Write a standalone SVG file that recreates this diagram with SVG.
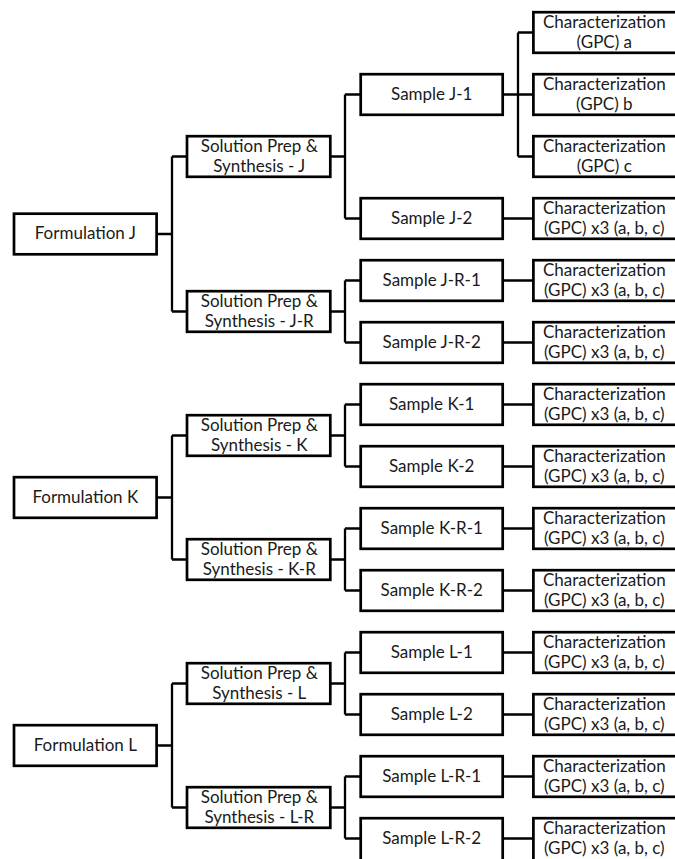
<svg xmlns="http://www.w3.org/2000/svg" width="675" height="859" viewBox="0 0 675 859">
<style>
.b{fill:#fff;stroke:#000;stroke-width:2.7}
.t{font-family:Lato,"Open Sans",sans-serif;font-size:17px;fill:#1a1a1a;text-anchor:middle}
.c{fill:none;stroke:#000;stroke-width:2.3}
</style>
<rect width="675" height="859" fill="#fff"/>
<g id="connectors">
<path class="c" d="M157 234H172M172 156.5V311.5M172 156.5H187M172 311.5H187"/>
<path class="c" d="M157 497.5H172M172 435.5V559.5M172 435.5H187M172 559.5H187"/>
<path class="c" d="M157 745.5H172M172 683.5V807.5M172 683.5H187M172 807.5H187"/>
<path class="c" d="M330 156.5H345M345 94.5V218.5M345 94.5H361M345 218.5H361"/>
<path class="c" d="M330 311.5H345M345 280.5V342.5M345 280.5H361M345 342.5H361"/>
<path class="c" d="M330 435.5H345M345 404.5V466.5M345 404.5H361M345 466.5H361"/>
<path class="c" d="M330 559.5H345M345 528.5V590.5M345 528.5H361M345 590.5H361"/>
<path class="c" d="M330 683.5H345M345 652.5V714.5M345 652.5H361M345 714.5H361"/>
<path class="c" d="M330 807.5H345M345 776.5V838.5M345 776.5H361M345 838.5H361"/>
<path class="c" d="M503 94.5H533M518 32.5V156.5M518 32.5H533M518 156.5H533"/>
<path class="c" d="M503 218.5H533M503 280.5H533M503 342.5H533M503 404.5H533M503 466.5H533M503 528.5H533M503 590.5H533M503 652.5H533M503 714.5H533M503 776.5H533M503 838.5H533"/>
</g>
<g id="formulation-j"><rect class="b" x="14" y="213.7" width="142.6" height="40.6"/><text class="t" x="85.3" y="239">Formulation J</text></g>
<g id="formulation-k"><rect class="b" x="14" y="477.2" width="142.6" height="40.6"/><text class="t" x="85.3" y="502.5">Formulation K</text></g>
<g id="formulation-l"><rect class="b" x="14" y="725.2" width="142.6" height="40.6"/><text class="t" x="85.3" y="750.5">Formulation L</text></g>
<g id="sp-j"><rect class="b" x="187" y="136.2" width="143.3" height="40.6"/><text class="t" x="259.3" y="152"><tspan x="259.3">Solution Prep &amp;</tspan><tspan x="259.3" dy="19.5">Synthesis - J</tspan></text></g>
<g id="sp-jr"><rect class="b" x="187" y="291.2" width="143.3" height="40.6"/><text class="t" x="259.3" y="307"><tspan x="259.3">Solution Prep &amp;</tspan><tspan x="259.3" dy="19.5">Synthesis - J-R</tspan></text></g>
<g id="sp-k"><rect class="b" x="187" y="415.2" width="143.3" height="40.6"/><text class="t" x="259.3" y="431"><tspan x="259.3">Solution Prep &amp;</tspan><tspan x="259.3" dy="19.5">Synthesis - K</tspan></text></g>
<g id="sp-kr"><rect class="b" x="187" y="539.2" width="143.3" height="40.6"/><text class="t" x="259.3" y="555"><tspan x="259.3">Solution Prep &amp;</tspan><tspan x="259.3" dy="19.5">Synthesis - K-R</tspan></text></g>
<g id="sp-l"><rect class="b" x="187" y="663.2" width="143.3" height="40.6"/><text class="t" x="259.3" y="679"><tspan x="259.3">Solution Prep &amp;</tspan><tspan x="259.3" dy="19.5">Synthesis - L</tspan></text></g>
<g id="sp-lr"><rect class="b" x="187" y="787.2" width="143.3" height="40.6"/><text class="t" x="259.3" y="803"><tspan x="259.3">Solution Prep &amp;</tspan><tspan x="259.3" dy="19.5">Synthesis - L-R</tspan></text></g>
<g id="s-j1"><rect class="b" x="360.7" y="74.2" width="142" height="40.6"/><text class="t" x="431.7" y="99.5">Sample J-1</text></g>
<g id="s-j2"><rect class="b" x="360.7" y="198.2" width="142" height="40.6"/><text class="t" x="431.7" y="223.5">Sample J-2</text></g>
<g id="s-jr1"><rect class="b" x="360.7" y="260.2" width="142" height="40.6"/><text class="t" x="431.7" y="285.5">Sample J-R-1</text></g>
<g id="s-jr2"><rect class="b" x="360.7" y="322.2" width="142" height="40.6"/><text class="t" x="431.7" y="347.5">Sample J-R-2</text></g>
<g id="s-k1"><rect class="b" x="360.7" y="384.2" width="142" height="40.6"/><text class="t" x="431.7" y="409.5">Sample K-1</text></g>
<g id="s-k2"><rect class="b" x="360.7" y="446.2" width="142" height="40.6"/><text class="t" x="431.7" y="471.5">Sample K-2</text></g>
<g id="s-kr1"><rect class="b" x="360.7" y="508.2" width="142" height="40.6"/><text class="t" x="431.7" y="533.5">Sample K-R-1</text></g>
<g id="s-kr2"><rect class="b" x="360.7" y="570.2" width="142" height="40.6"/><text class="t" x="431.7" y="595.5">Sample K-R-2</text></g>
<g id="s-l1"><rect class="b" x="360.7" y="632.2" width="142" height="40.6"/><text class="t" x="431.7" y="657.5">Sample L-1</text></g>
<g id="s-l2"><rect class="b" x="360.7" y="694.2" width="142" height="40.6"/><text class="t" x="431.7" y="719.5">Sample L-2</text></g>
<g id="s-lr1"><rect class="b" x="360.7" y="756.2" width="142" height="40.6"/><text class="t" x="431.7" y="781.5">Sample L-R-1</text></g>
<g id="s-lr2"><rect class="b" x="360.7" y="818.2" width="142" height="44"/><text class="t" x="431.7" y="843.5">Sample L-R-2</text></g>
<g id="c-j1a"><rect class="b" x="533.4" y="12.2" width="146" height="40.6"/><text class="t" x="604.3" y="28"><tspan x="604.3">Characterization</tspan><tspan x="604.3" dy="19.5">(GPC) a</tspan></text></g>
<g id="c-j1b"><rect class="b" x="533.4" y="74.2" width="146" height="40.6"/><text class="t" x="604.3" y="90"><tspan x="604.3">Characterization</tspan><tspan x="604.3" dy="19.5">(GPC) b</tspan></text></g>
<g id="c-j1c"><rect class="b" x="533.4" y="136.2" width="146" height="40.6"/><text class="t" x="604.3" y="152"><tspan x="604.3">Characterization</tspan><tspan x="604.3" dy="19.5">(GPC) c</tspan></text></g>
<g id="c-j2"><rect class="b" x="533.4" y="198.2" width="146" height="40.6"/><text class="t" x="604.3" y="214"><tspan x="604.3">Characterization</tspan><tspan x="604.3" dy="19.5">(GPC) x3 (a, b, c)</tspan></text></g>
<g id="c-jr1"><rect class="b" x="533.4" y="260.2" width="146" height="40.6"/><text class="t" x="604.3" y="276"><tspan x="604.3">Characterization</tspan><tspan x="604.3" dy="19.5">(GPC) x3 (a, b, c)</tspan></text></g>
<g id="c-jr2"><rect class="b" x="533.4" y="322.2" width="146" height="40.6"/><text class="t" x="604.3" y="338"><tspan x="604.3">Characterization</tspan><tspan x="604.3" dy="19.5">(GPC) x3 (a, b, c)</tspan></text></g>
<g id="c-k1"><rect class="b" x="533.4" y="384.2" width="146" height="40.6"/><text class="t" x="604.3" y="400"><tspan x="604.3">Characterization</tspan><tspan x="604.3" dy="19.5">(GPC) x3 (a, b, c)</tspan></text></g>
<g id="c-k2"><rect class="b" x="533.4" y="446.2" width="146" height="40.6"/><text class="t" x="604.3" y="462"><tspan x="604.3">Characterization</tspan><tspan x="604.3" dy="19.5">(GPC) x3 (a, b, c)</tspan></text></g>
<g id="c-kr1"><rect class="b" x="533.4" y="508.2" width="146" height="40.6"/><text class="t" x="604.3" y="524"><tspan x="604.3">Characterization</tspan><tspan x="604.3" dy="19.5">(GPC) x3 (a, b, c)</tspan></text></g>
<g id="c-kr2"><rect class="b" x="533.4" y="570.2" width="146" height="40.6"/><text class="t" x="604.3" y="586"><tspan x="604.3">Characterization</tspan><tspan x="604.3" dy="19.5">(GPC) x3 (a, b, c)</tspan></text></g>
<g id="c-l1"><rect class="b" x="533.4" y="632.2" width="146" height="40.6"/><text class="t" x="604.3" y="648"><tspan x="604.3">Characterization</tspan><tspan x="604.3" dy="19.5">(GPC) x3 (a, b, c)</tspan></text></g>
<g id="c-l2"><rect class="b" x="533.4" y="694.2" width="146" height="40.6"/><text class="t" x="604.3" y="710"><tspan x="604.3">Characterization</tspan><tspan x="604.3" dy="19.5">(GPC) x3 (a, b, c)</tspan></text></g>
<g id="c-lr1"><rect class="b" x="533.4" y="756.2" width="146" height="40.6"/><text class="t" x="604.3" y="772"><tspan x="604.3">Characterization</tspan><tspan x="604.3" dy="19.5">(GPC) x3 (a, b, c)</tspan></text></g>
<g id="c-lr2"><rect class="b" x="533.4" y="818.2" width="146" height="44"/><text class="t" x="604.3" y="834"><tspan x="604.3">Characterization</tspan><tspan x="604.3" dy="19.5">(GPC) x3 (a, b, c)</tspan></text></g>
</svg>
